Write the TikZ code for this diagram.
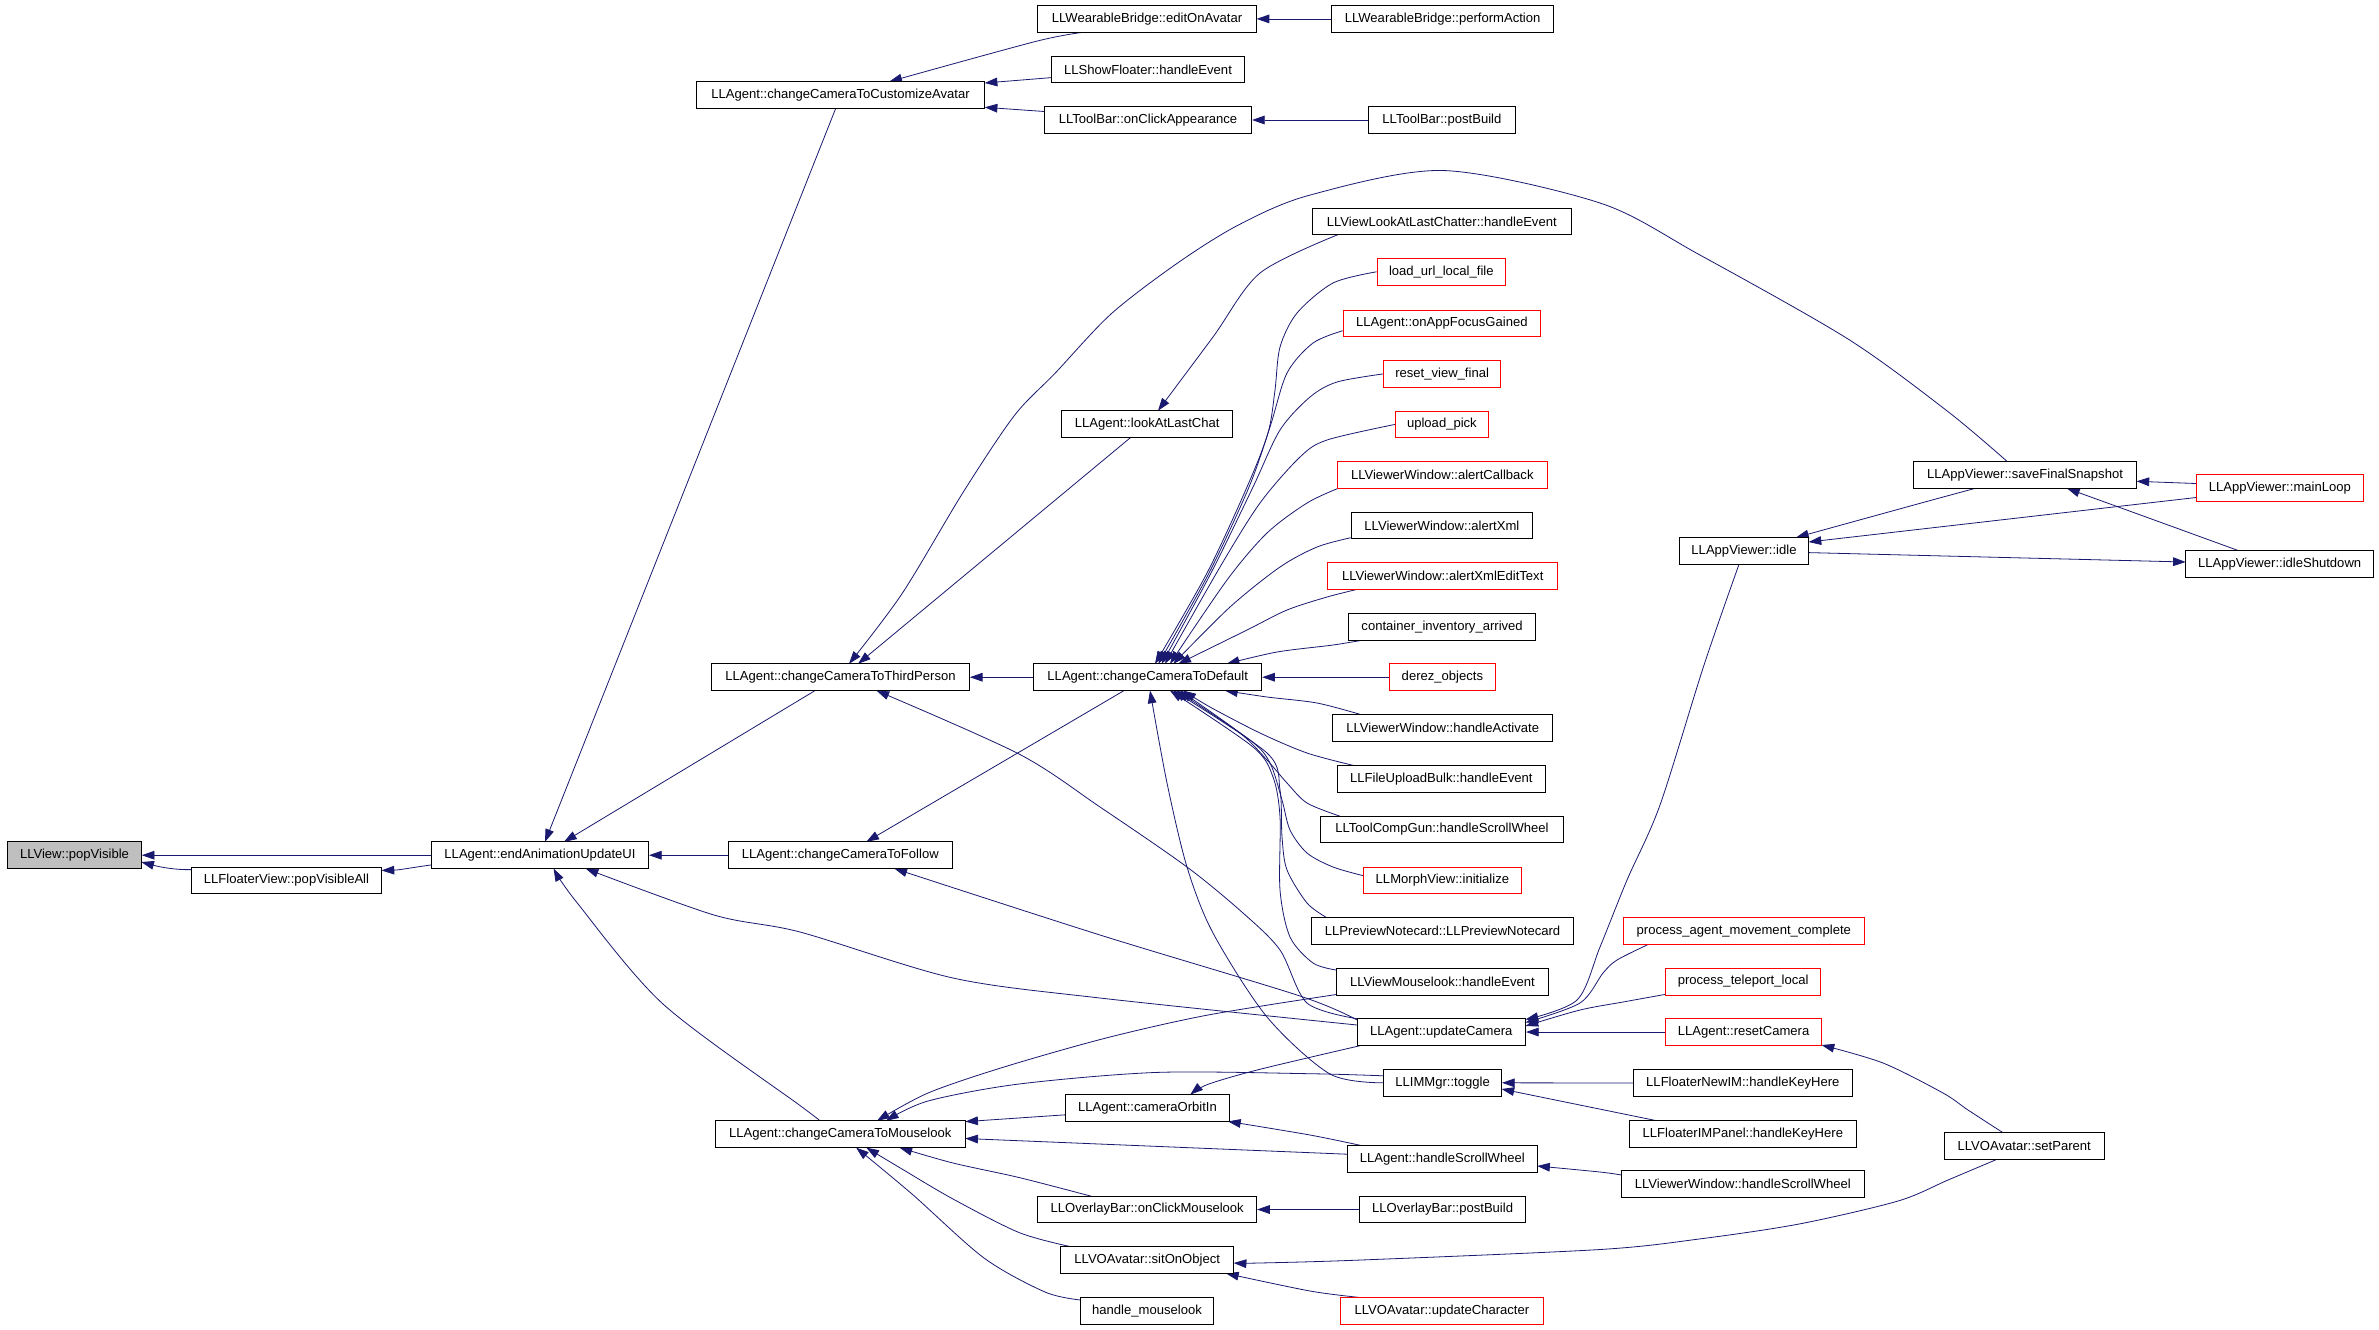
\documentclass[tikz,border=0pt]{standalone}
\usepackage{fontspec}
\setmainfont{Liberation Sans}
\usetikzlibrary{arrows.meta,calc}
\definecolor{mblue}{HTML}{191970}
\definecolor{grayfill}{HTML}{BFBFBF}
\pgfdeclarelayer{bg}
\pgfsetlayers{bg,main}
\begin{document}
\begin{tikzpicture}[x=0.75pt,y=-0.75pt,
  fn/.style={draw=black, line width=0.75pt, minimum height=20.1pt, inner sep=0pt,
    font=\fontsize{9.8pt}{11pt}\selectfont, fill=white},
  redfn/.style={fn, draw=red},
  bw/.style={minimum width=#1*0.75pt},
  callarrow/.style={draw=mblue, line width=0.6pt, -{Triangle[length=9.5pt,width=6.5pt]}}]
\begin{pgfonlayer}{bg}
\fill[white] (0,0) rectangle (2379,1329);
\end{pgfonlayer}
\useasboundingbox (0,0) rectangle (2379,1329);

% column 1-3
\node[fn,bw=133.6,fill=grayfill] (pv) at (74.5,855.2) {LLView::popVisible};
\node[fn,bw=190.3] (pva) at (286.5,880.5) {LLFloaterView::popVisibleAll};
\node[fn,bw=217] (eau) at (540,855.2) {LLAgent::endAnimationUpdateUI};
% column 4
\node[fn,bw=288.3] (cca) at (840.5,95) {LLAgent::changeCameraToCustomizeAvatar};
\node[fn,bw=257.7] (tp) at (840.5,677.2) {LLAgent::changeCameraToThirdPerson};
\node[fn,bw=224.6] (fol) at (840.3,855.2) {LLAgent::changeCameraToFollow};
\node[fn,bw=250] (ml) at (840.3,1134.2) {LLAgent::changeCameraToMouselook};
% column 5
\node[fn,bw=218.3] (eoa) at (1147,18.9) {LLWearableBridge::editOnAvatar};
\node[fn,bw=192.9] (sf) at (1148,69.5) {LLShowFloater::handleEvent};
\node[fn,bw=207.1] (oca) at (1148,120) {LLToolBar::onClickAppearance};
\node[fn,bw=171] (lalc) at (1147.2,424.1) {LLAgent::lookAtLastChat};
\node[fn,bw=228] (def) at (1147.7,677.2) {LLAgent::changeCameraToDefault};
\node[fn,bw=164.3] (coi) at (1147.5,1108) {LLAgent::cameraOrbitIn};
\node[fn,bw=218.8] (ocm) at (1147.2,1209.5) {LLOverlayBar::onClickMouselook};
\node[fn,bw=173] (soo) at (1147.2,1260) {LLVOAvatar::sitOnObject};
\node[fn,bw=132.7] (hm) at (1147,1311) {handle\_mouselook};
% column 6
\node[fn,bw=222] (pa) at (1442.6,18.9) {LLWearableBridge::performAction};
\node[fn,bw=146.9] (tbpb) at (1441.9,120) {LLToolBar::postBuild};
\node[fn,bw=259.2] (vlc) at (1441.8,221.4) {LLViewLookAtLastChatter::handleEvent};
\node[redfn,bw=128.6] (lul) at (1441.3,271.8) {load\_url\_local\_file};
\node[redfn,bw=196.9] (oafg) at (1441.9,323.4) {LLAgent::onAppFocusGained};
\node[redfn,bw=116.8] (rvf) at (1442.1,373.9) {reset\_view\_final};
\node[redfn,bw=92.9] (up) at (1441.9,424.4) {upload\_pick};
\node[redfn,bw=210.2] (acb) at (1442.3,475) {LLViewerWindow::alertCallback};
\node[fn,bw=181.7] (axml) at (1441.9,525.5) {LLViewerWindow::alertXml};
\node[redfn,bw=230.1] (axet) at (1442.7,576.2) {LLViewerWindow::alertXmlEditText};
\node[fn,bw=187.2] (cia) at (1442.1,626.8) {container\_inventory\_arrived};
\node[redfn,bw=106.1] (dz) at (1442.4,677.2) {derez\_objects};
\node[fn,bw=219.9] (ha) at (1442.7,728.2) {LLViewerWindow::handleActivate};
\node[fn,bw=208.2] (fub) at (1441.3,778.8) {LLFileUploadBulk::handleEvent};
\node[fn,bw=242.9] (tcg) at (1441.9,829.4) {LLToolCompGun::handleScrollWheel};
\node[redfn,bw=158.1] (mvi) at (1442.4,880.4) {LLMorphView::initialize};
\node[fn,bw=261.8] (pn) at (1442.6,931) {LLPreviewNotecard::LLPreviewNotecard};
\node[fn,bw=212.3] (vml) at (1442.4,981.6) {LLViewMouselook::handleEvent};
\node[fn,bw=168.4] (uc) at (1441.3,1032) {LLAgent::updateCamera};
\node[fn,bw=117.8] (tog) at (1442.6,1082.8) {LLIMMgr::toggle};
\node[fn,bw=189.8] (hsw) at (1442.3,1158.9) {LLAgent::handleScrollWheel};
\node[fn,bw=165.8] (obpb) at (1442.6,1209.5) {LLOverlayBar::postBuild};
\node[redfn,bw=203.1] (uch) at (1441.9,1311) {LLVOAvatar::updateCharacter};
% column 7
\node[fn,bw=129.1] (idl) at (1744,550.9) {LLAppViewer::idle};
\node[redfn,bw=241] (pamc) at (1743.8,931) {process\_agent\_movement\_complete};
\node[redfn,bw=155] (ptl) at (1743.1,981.6) {process\_teleport\_local};
\node[redfn,bw=156] (rc) at (1743.6,1032) {LLAgent::resetCamera};
\node[fn,bw=219.1] (fnim) at (1742.8,1083) {LLFloaterNewIM::handleKeyHere};
\node[fn,bw=227] (fimp) at (1742.8,1133.6) {LLFloaterIMPanel::handleKeyHere};
\node[fn,bw=242.9] (vwsw) at (1742.8,1184) {LLViewerWindow::handleScrollWheel};
% column 8-9
\node[fn,bw=223] (sfs) at (2025,475) {LLAppViewer::saveFinalSnapshot};
\node[fn,bw=159.9] (sp) at (2024.2,1145.7) {LLVOAvatar::setParent};
\node[redfn,bw=167.4] (mlp) at (2279.8,487.9) {LLAppViewer::mainLoop};
\node[fn,bw=187.8] (ids) at (2279.6,564) {LLAppViewer::idleShutdown};

\begin{pgfonlayer}{bg}
% into popVisible / popVisibleAll / endAnimationUpdateUI
\draw[callarrow] (eau.west) -- (pv.east);
\draw[callarrow] ($(pva)+(-95.2,-10.9)$) .. controls (175,870) and (160,867) .. ($(pv)+(66.8,6.8)$);
\draw[callarrow] ($(eau)+(-108.4,9.7)$) .. controls (415,867) and (400,870) .. ($(pva)+(95.1,-10.1)$);
\draw[callarrow] ($(cca)+(-4.8,13.4)$) -- ($(eau)+(5,-13.4)$);
\draw[callarrow] ($(tp)+(-25.5,13.4)$) -- ($(eau)+(24,-13.4)$);
\draw[callarrow] (fol.west) -- (eau.east);
\draw[callarrow] plot[smooth] coordinates {($(uc)+(-84.2,-7)$) (1100,998) (953,978) (800,932) (714,915) ($(eau)+(45.7,13.4)$)};
\draw[callarrow] plot[smooth] coordinates {($(ml)+(-20.3,-13.4)$) (800,1105.5) (663,1004) (576.5,902) ($(eau)+(13.6,13.4)$)};
% into changeCameraToCustomizeAvatar
\draw[callarrow] plot[smooth] coordinates {($(eoa)+(-64,13.4)$) (1035,41.6) ($(cca)+(48.8,-13.4)$)};
\draw[callarrow] ($(sf)+(-96.5,8.1)$) -- ($(cca)+(144.2,-12)$);
\draw[callarrow] ($(oca)+(-103.6,-8.5)$) -- ($(cca)+(144.2,12.3)$);
\draw[callarrow] (pa.west) -- (eoa.east);
\draw[callarrow] (tbpb.west) -- (oca.east);
% into changeCameraToThirdPerson
\draw[callarrow] plot[smooth] coordinates {($(sfs)+(-17.7,-13.4)$) (1947.7,411.4) (1848,339) (1699,254.5) (1600,203) (1442.9,170.5) (1310.2,195) (1238.8,224.8) (1177.6,263) (1111.2,313.8) (1055.1,373.2) (1014.3,415.6) (963.3,492) (902,593.7) ($(tp)+(8.5,-13.4)$)};
\draw[callarrow] ($(lalc)+(-16.6,13.4)$) -- ($(tp)+(17.5,-13.4)$);
\draw[callarrow] (def.west) -- (tp.east);
\draw[callarrow] plot[smooth] coordinates {($(uc)+(-84.2,-13.3)$) (1307,1003) (1280,950) (1243,913) (1187,867) (1100,807) (1019,754) ($(tp)+(36,13.4)$)};
\draw[callarrow] plot[smooth] coordinates {($(vlc)+(-103.5,13.1)$) (1260,273) (1213,337) ($(lalc)+(10.8,-13.4)$)};
% into changeCameraToFollow
\draw[callarrow] ($(def)+(-23.7,13.4)$) -- ($(fol)+(26,-13.4)$);
\draw[callarrow] plot[smooth] coordinates {($(uc)+(-84.2,-12)$) (1300,996) (1100,935) ($(fol)+(54.1,13.4)$)};
% into changeCameraToDefault
\draw[callarrow] plot[smooth] coordinates {(lul.west) (1333,283) (1297,313) (1280,347) (1275,390) (1268,433) (1247,487) (1207,573) ($(def)+(7.3,-13.4)$)};
\draw[callarrow] plot[smooth] coordinates {($(oafg)+(-99.2,7.3)$) (1313,343) (1287,373) (1270,427) (1249,487) (1209,573) ($(def)+(10.6,-13.4)$)};
\draw[callarrow] plot[smooth] coordinates {(rvf.west) (1337,382) (1310,397) (1280,430) (1253,487) (1211,573) ($(def)+(14,-13.4)$)};
\draw[callarrow] plot[smooth] coordinates {(up.west) (1327,440) (1300,457) (1260,503) (1220,567) ($(def)+(17.3,-13.4)$)};
\draw[callarrow] plot[smooth] coordinates {($(acb)+(-104,13.3)$) (1307,503) (1267,533) (1227,580) ($(def)+(22.3,-13.4)$)};
\draw[callarrow] plot[smooth] coordinates {($(axml)+(-91.2,12.2)$) (1317,547) (1280,567) (1230,607) ($(def)+(25.6,-13.4)$)};
\draw[callarrow] plot[smooth] coordinates {($(axet)+(-85.4,13.1)$) (1327,597) (1287,610) (1247,630) ($(def)+(30.6,-13.4)$)};
\draw[callarrow] plot[smooth] coordinates {($(cia)+(-78.8,13.2)$) (1333,645) (1277,652) ($(def)+(79,-13.4)$)};
\draw[callarrow] (dz.west) -- (def.east);
\draw[callarrow] plot[smooth] coordinates {($(ha)+(-81,-13.4)$) (1317,703) (1267,697) ($(def)+(77.3,13.4)$)};
\draw[callarrow] plot[smooth] coordinates {($(fub)+(-88,-13.4)$) (1307,753) (1260,733) (1210,707) ($(def)+(35.6,13.4)$)};
\draw[callarrow] plot[smooth] coordinates {($(tcg)+(-101.9,-13.2)$) (1307,803) (1287,783) (1267,760) (1240,733) ($(def)+(32.3,13.4)$)};
\draw[callarrow] plot[smooth] coordinates {($(mvi)+(-79.1,-4.7)$) (1333,867) (1307,853) (1290,830) (1282,800) (1270,763) (1250,740) ($(def)+(29,13.4)$)};
\draw[callarrow] plot[smooth] coordinates {($(pn)+(-115.9,-13.4)$) (1307,903) (1287,870) (1282,837) (1280,790) (1267,753) ($(def)+(25.6,13.4)$)};
\draw[callarrow] plot[smooth] coordinates {($(vml)+(-106.2,-11.6)$) (1313,963) (1290,937) (1280,890) (1280,817) (1273,777) (1253,747) ($(def)+(22.3,13.4)$)};
\draw[callarrow] plot[smooth] coordinates {(tog.west) (1330,1074) (1267,1017) (1213,933) (1187,867) (1167,783) ($(def)+(2.3,13.4)$)};
% into updateCamera
\draw[callarrow] plot[smooth] coordinates {($(idl)+(-5,13.4)$) (1704,665) (1660,805) (1627,880) (1600,947) (1577,1000) ($(uc)+(84.2,-12.5)$)};
\draw[callarrow] plot[smooth] coordinates {($(pamc)+(-95.5,13.4)$) (1617,960) (1603,973) (1580,1003) ($(uc)+(84.2,-9.5)$)};
\draw[callarrow] plot[smooth] coordinates {($(ptl)+(-77.5,12.7)$) (1623,1002) (1580,1010) ($(uc)+(84.2,-6)$)};
\draw[callarrow] (rc.west) -- (uc.east);
% into toggle, handleScrollWheel, resetCamera
\draw[callarrow] (fnim.west) -- (tog.east);
\draw[callarrow] ($(fimp)+(-86.1,-12.9)$) -- ($(tog)+(58.9,6.2)$);
\draw[callarrow] plot[smooth] coordinates {($(vwsw)+(-121.4,-9)$) (1600,1172) ($(hsw)+(94.9,7.1)$)};
\draw[callarrow] plot[smooth] coordinates {($(sp)+(-21.8,-13.4)$) (1968,1110) (1943,1093) (1883,1063) ($(rc)+(78,13)$)};
% into sitOnObject, onClickMouselook
\draw[callarrow] plot[smooth] coordinates {($(sp)+(-26.8,13.4)$) (1948,1180) (1898,1201) (1799,1224) (1699,1239) (1600,1249.5) (1361,1260) (1259,1263) ($(soo)+(86.5,3)$)};
\draw[callarrow] plot[smooth] coordinates {($(uch)+(-80.7,-13.4)$) (1310,1291) ($(soo)+(78.8,13.4)$)};
\draw[callarrow] (obpb.west) -- (ocm.east);
% into changeCameraToMouselook
\draw[callarrow] plot[smooth] coordinates {($(ocm)+(-56.4,-13.4)$) (1019,1177.5) (953,1163) ($(ml)+(59.2,13.4)$)};
\draw[callarrow] plot[smooth] coordinates {($(soo)+(-76.8,-13.4)$) (1019,1232.5) (953,1199) (902,1169) ($(ml)+(26,13.4)$)};
\draw[callarrow] plot[smooth] coordinates {($(hm)+(-66.4,-11)$) (1045,1292) (984,1258) (912,1194) ($(ml)+(15.8,13.4)$)};
\draw[callarrow] ($(coi)+(-82.2,6.8)$) -- ($(ml)+(125,-12.6)$);
\draw[callarrow] ($(hsw)+(-94.9,-4.7)$) -- ($(ml)+(125,4.3)$);
\draw[callarrow] plot[smooth] coordinates {($(hsw)+(-81.1,-13.4)$) (1310,1135) ($(coi)+(80.5,13.4)$)};
\draw[callarrow] plot[smooth] coordinates {($(uc)+(-80.1,13.4)$) (1259,1069.5) (1208,1084.3) ($(coi)+(42.8,-13.4)$)};
\draw[callarrow] plot[smooth] coordinates {($(vml)+(-106.2,12.9)$) (1208,1015) (1106,1038) (1004,1067) (928,1093) ($(ml)+(36.7,-13.4)$)};
\draw[callarrow] plot[smooth] coordinates {($(tog)+(-58.9,-7)$) (1310,1073.7) (1157,1072.4) (1019,1084) (928,1101) ($(ml)+(45.7,-13.4)$)};
% AppViewer cluster
\draw[callarrow] plot[smooth] coordinates {($(sfs)+(-50,13.4)$) (1923,502.5) ($(idl)+(52,-13.4)$)};
\draw[callarrow] ($(mlp)+(-83.7,9.6)$) -- ($(idl)+(64.6,-8.9)$);
\draw[callarrow] ($(idl)+(64.6,1.7)$) -- ($(ids)+(-93.9,-2)$);
\draw[callarrow] ($(mlp)+(-83.7,-4.4)$) -- ($(sfs)+(111.5,6.3)$);
\draw[callarrow] plot[smooth] coordinates {($(ids)+(-41.2,-13.4)$) (2146,517) ($(sfs)+(42,13.4)$)};
\end{pgfonlayer}
\end{tikzpicture}
\end{document}
